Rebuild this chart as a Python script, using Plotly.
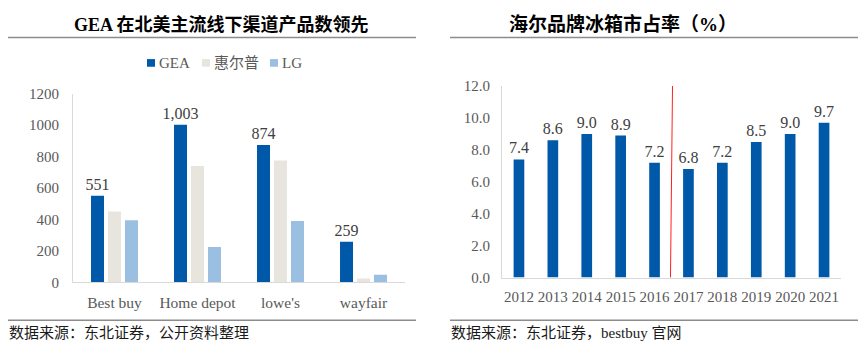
import plotly.graph_objects as go

W, H = 866, 356

# ---------------- data ----------------
stores = ["Best buy", "Home depot", "lowe's", "wayfair"]
series_names = ["GEA", "惠尔普", "LG"]
gea = [551, 1003, 874, 259]
whirlpool = [450, 740, 775, 25]
lg = [395, 225, 390, 48]
series_colors = ["#0058A8", "#E8E5DF", "#9BBFE0"]

years = ["2012", "2013", "2014", "2015", "2016", "2017", "2018", "2019", "2020", "2021"]
share = [7.4, 8.6, 9.0, 8.9, 7.2, 6.8, 7.2, 8.5, 9.0, 9.7]

left_title = "GEA 在北美主流线下渠道产品数领先"
right_title = "海尔品牌冰箱市占率（%）"
left_source = "数据来源：东北证券，公开资料整理"
right_source = "数据来源：东北证券，bestbuy 官网"

SERIF = "Liberation Serif, Times New Roman, Noto Sans CJK SC, serif"
TICK_COLOR = "#595959"
LABEL_COLOR = "#404040"
AXIS_COLOR = "#D9D9D9"


def px(x):
    return x / W


def py(y):
    return 1 - y / H


fig = go.Figure()

# ---------------- left chart ----------------
for name, vals, col in zip(series_names, [gea, whirlpool, lg], series_colors):
    kw = {}
    if name == "GEA":
        kw = dict(
            text=[f"{v:,}" for v in vals],
            textposition="outside",
            textfont=dict(family=SERIF, size=16, color=LABEL_COLOR),
            constraintext="none",
            cliponaxis=False,
        )
    fig.add_trace(go.Bar(x=stores, y=vals, name=name, marker=dict(color=col, line=dict(width=0)),
                         xaxis="x", yaxis="y", showlegend=False, **kw))

# ---------------- right chart ----------------
bw = 0.315
fig.add_trace(go.Bar(
    x=years, y=share, name="市占率", marker=dict(color="#0058A8", line=dict(width=0)),
    width=bw, offset=-bw / 2,
    text=[f"{v:.1f}" for v in share], textposition="outside",
    textfont=dict(family=SERIF, size=16, color=LABEL_COLOR),
    constraintext="none", cliponaxis=False,
    xaxis="x2", yaxis="y2", showlegend=False,
))

axis_common = dict(showline=True, linecolor=AXIS_COLOR, linewidth=1, showgrid=False,
                   zeroline=False, ticks="")

fig.update_layout(
    width=W, height=H,
    margin=dict(l=0, r=0, t=0, b=0),
    paper_bgcolor="white", plot_bgcolor="white",
    barmode="group", bargap=0.386, bargroupgap=0.235,
    xaxis=dict(domain=[px(73), px(405)], anchor="y", ticklabelstandoff=6,
               tickfont=dict(family=SERIF, size=15.5, color=TICK_COLOR), **axis_common),
    yaxis=dict(domain=[py(287.3), py(89.7)], anchor="x", range=[0, 1200], dtick=200,
               tickformat="d", ticklabelstandoff=10,
               tickfont=dict(family=SERIF, size=15, color=TICK_COLOR), **axis_common),
    xaxis2=dict(domain=[px(502), px(841)], anchor="y2", ticklabelstandoff=5,
                tickfont=dict(family=SERIF, size=15, color=TICK_COLOR), **axis_common),
    yaxis2=dict(domain=[py(282.3), py(81.7)], anchor="x2", range=[0, 12], dtick=2,
                tickformat=".1f", ticklabelstandoff=8,
                tickfont=dict(family=SERIF, size=15, color=TICK_COLOR), **axis_common),
    showlegend=False,
)

# red divider between 2016 and 2017
fig.add_shape(type="line", xref="x2", yref="y2", x0=4.47, x1=4.53, y0=0, y1=12,
              line=dict(color="#FF2020", width=1))

# title & footer rules
for x0, x1 in [(8, 416), (450, 858)]:
    for y in (31, 327):
        fig.add_shape(type="line", xref="paper", yref="paper", x0=px(x0), x1=px(x1),
                      y0=py(y), y1=py(y), line=dict(color="#8C8C8C", width=1.5))

# titles
fig.add_annotation(text=f"<b>{left_title}</b>", xref="paper", yref="paper", x=px(221), y=py(17),
                   showarrow=False, xanchor="center", yanchor="middle",
                   font=dict(family=SERIF, size=18, color="#000000"))
fig.add_annotation(text=f"<b>{right_title}</b>", xref="paper", yref="paper", x=px(623), y=py(17),
                   showarrow=False, xanchor="center", yanchor="middle",
                   font=dict(family=SERIF, size=19, color="#000000"))

# sources
fig.add_annotation(text=left_source, xref="paper", yref="paper", x=px(7), y=py(340),
                   showarrow=False, xanchor="left", yanchor="middle",
                   font=dict(family=SERIF, size=15, color="#1A1A1A"))
fig.add_annotation(text=right_source, xref="paper", yref="paper", x=px(449), y=py(340),
                   showarrow=False, xanchor="left", yanchor="middle",
                   font=dict(family=SERIF, size=15, color="#1A1A1A"))

# legend (manual, compact)
legend_sq_x = [147, 202, 270]
for name, col, sx in zip(series_names, series_colors, legend_sq_x):
    fig.add_shape(type="rect", xref="paper", yref="paper", x0=px(sx), x1=px(sx + 8),
                  y0=py(61.5), y1=py(53.5), fillcolor=col, line=dict(width=0))
    fig.add_annotation(text=name, xref="paper", yref="paper", x=px(sx + 10), y=py(57.5),
                       showarrow=False, xanchor="left", yanchor="middle",
                       font=dict(family=SERIF, size=15, color=TICK_COLOR))

fig.write_html(
    "out.html",
    config={"displayModeBar": False},
    post_script="document.body.style.margin='0';document.body.style.overflow='hidden';",
)
